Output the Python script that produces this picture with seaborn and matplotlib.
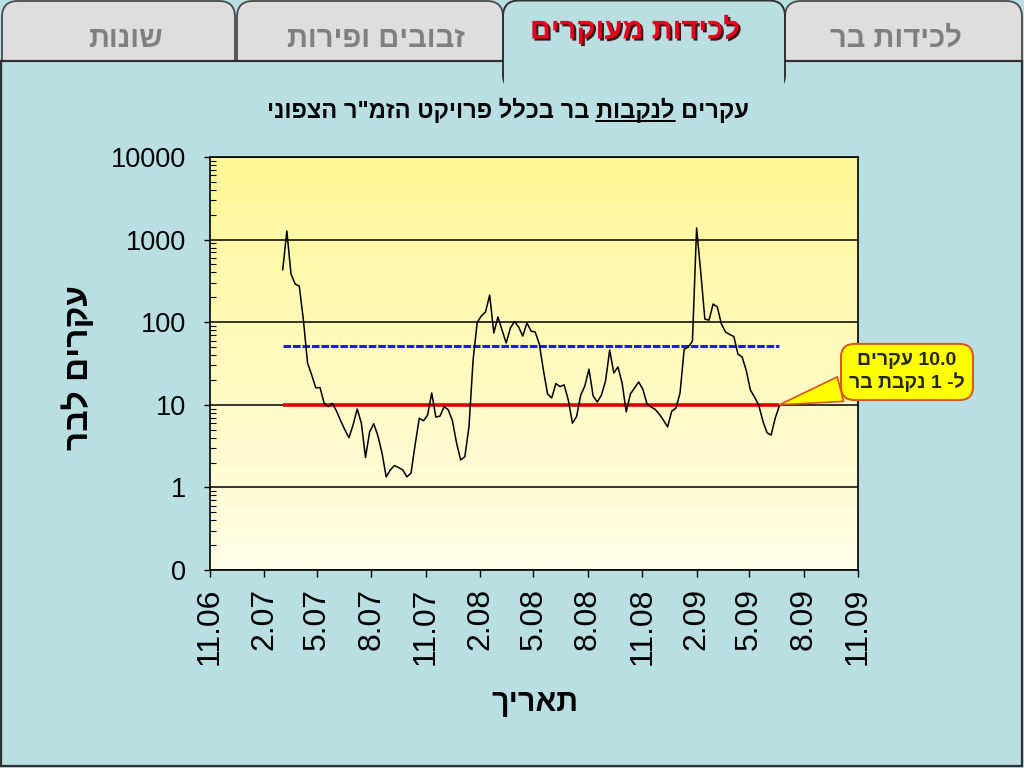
import re
import matplotlib
matplotlib.use("Agg")
import matplotlib.pyplot as plt
import matplotlib.patheffects as pe
from matplotlib.patches import FancyBboxPatch, Rectangle
from matplotlib.lines import Line2D
import numpy as np
import pandas as pd
import seaborn as sns

# weekly ratio of sterile to wild flies (per trapped wild female)
start_date = "2007-03-04"
sterile_per_wild = [430, 1270, 383, 290, 274, 106, 32, 23, 16, 16.2,
                    10.5, 9.5, 10.4, 8.4, 6.4, 5.0, 4.0, 5.7, 8.9, 6.0,
                    2.3, 4.7, 5.9, 4.2, 2.6, 1.34, 1.63, 1.84, 1.74, 1.63,
                    1.34, 1.49, 3.3, 6.9, 6.4, 7.5, 13.9, 7.1, 7.3, 9.5,
                    8.7, 6.4, 3.45, 2.15, 2.35, 5.4, 35, 100, 119, 133,
                    213, 74, 116, 80, 56, 85, 102, 87.5, 68, 98,
                    78, 76, 54.5, 26, 13.5, 12.1, 18.1, 16.6, 17.4, 11.4,
                    6.0, 7.2, 13.1, 16.9, 27, 12.8, 10.8, 13.1, 19.4, 46,
                    24.3, 28.7, 18.4, 8.2, 13.5, 16, 18.9, 15.5, 10.3, 9.4,
                    8.8, 7.7, 6.5, 5.4, 8.4, 9.1, 13.9, 47, 50, 59,
                    1380, 405, 109, 106, 166, 153, 95, 76, 71, 67,
                    41, 38, 26, 15.1, 12.4, 9.95, 6.4, 4.6, 4.3, 6.9, 9.7]
target_ratio = 10.0
mean_ratio = 51.0

tick_labels = ["11.06", "2.07", "5.07", "8.07", "11.07", "2.08", "5.08",
               "8.08", "11.08", "2.09", "5.09", "8.09", "11.09"]
y_ticks = [0.1, 1, 10, 100, 1000, 10000]
y_tick_labels = ["0", "1", "10", "100", "1000", "10000"]

tabs = ["שונות", "זבובים ופירות", "לכידות מעוקרים", "לכידות בר"]
title_text = 'עקרים לנקבות בר בכלל פרויקט הזמ"ר הצפוני'
underlined_word = "לנקבות"
callout_lines = ["10.0 עקרים", "ל- 1 נקבת בר"]
x_title = "תאריך"
y_title = "עקרים לבר"


def rtl(s):
    # matplotlib has no bidi: reverse for display, keep numbers left-to-right
    return re.sub(r"[0-9][0-9.]*", lambda m: m.group(0)[::-1], s[::-1])


df = pd.DataFrame({"date": pd.date_range(start_date, periods=len(sterile_per_wild), freq="7D"),
                   "ratio": sterile_per_wild})
tick_dates = pd.date_range("2006-11-01", periods=len(tick_labels), freq="3MS")

sns.set_theme(style="ticks")
plt.rcParams["font.family"] = ["Liberation Sans", "DejaVu Sans"]

BG = "#b9dfe3"
fig = plt.figure(figsize=(10.24, 7.68), dpi=100, facecolor=BG)

# slide decoration (tabs, frame) in pixel coords
deco = fig.add_axes([0, 0, 1, 1], zorder=0)
deco.set_xlim(0, 1024)
deco.set_ylim(768, 0)
deco.axis("off")
tab_boxes = [(2, 235), (237, 503), (503, 785), (785, 1022)]
tab_text_x = [125, 376, 635, 896]
active = 2
for i, (x0, x1) in enumerate(tab_boxes):
    if i == active:
        continue
    deco.add_patch(FancyBboxPatch((x0, 1), x1 - x0, 90, boxstyle="round,pad=0,rounding_size=16",
                                  fc="#dedede", ec="#4a4a4a", lw=1.3, zorder=1))
deco.add_patch(Rectangle((1, 61), 1021, 705, fc=BG, ec="#303030", lw=1.6, zorder=2))
x0, x1 = tab_boxes[active]
deco.add_patch(FancyBboxPatch((x0, 0.5), x1 - x0, 90, boxstyle="round,pad=0,rounding_size=16",
                              fc=BG, ec="#303030", lw=1.4, zorder=3))
deco.add_patch(Rectangle((x0 + 1.2, 58), x1 - x0 - 2.4, 40, fc=BG, ec="none", zorder=4))
for i, (tx, name) in enumerate(zip(tab_text_x, tabs)):
    if i == active:
        deco.text(tx, 30, rtl(name), ha="center", va="center", fontsize=21,
                  weight="bold", color="#e8001c", zorder=5,
                  path_effects=[pe.withSimplePatchShadow(offset=(1.5, -1.5), shadow_rgbFace="#300000", alpha=0.9)])
    else:
        deco.text(tx, 39, rtl(name), ha="center", va="center", fontsize=21,
                  weight="bold", color="#7f7f7f", zorder=5)

# chart
ax = fig.add_axes([210 / 1024, 1 - 570 / 768, 648 / 1024, 413 / 768], zorder=2)
grad = np.linspace(0, 1, 256)[:, None]
top = np.array([255, 246, 150]) / 255
bottom = np.array([255, 253, 230]) / 255
img = (top * (1 - grad) + bottom * grad)[:, None, :].repeat(2, axis=1)
ax.imshow(img, extent=[0, 1, 0, 1], transform=ax.transAxes, aspect="auto", zorder=0)

sns.lineplot(data=df, x="date", y="ratio", ax=ax, color="black", lw=1.1, zorder=4)
ax.hlines(mean_ratio, df["date"].iloc[0], df["date"].iloc[-1], colors="#1a1aff", lw=2.2,
          linestyles=(0, (2.5, 0.6)), zorder=3)
ax.hlines(target_ratio, df["date"].iloc[0], df["date"].iloc[-1], colors="#d80000", lw=2.6, zorder=3)

ax.set_yscale("log")
ax.set_ylim(0.1, 10000)
ax.set_xlim(tick_dates[0], tick_dates[-1])
ax.set_yticks(y_ticks, labels=y_tick_labels, fontsize=19.5)
ax.set_xticks(tick_dates, labels=tick_labels, fontsize=23, rotation=90)
ax.yaxis.grid(True, which="major", color="black", lw=1.1)
ax.tick_params(axis="y", which="major", direction="out", length=4, width=1, pad=13, colors="black")
ax.tick_params(axis="y", which="minor", direction="in", length=4, width=0.8, color="black")
ax.tick_params(axis="x", which="major", direction="out", length=5, width=1, pad=8, colors="black")
for s in ax.spines.values():
    s.set_color("black")
    s.set_linewidth(1.2)

ax.set_xlabel(rtl(x_title), fontsize=22, weight="bold", color="black")
ax.xaxis.set_label_coords(0.502, -0.285)
ax.set_ylabel(rtl(y_title), fontsize=24, weight="bold", color="black")
ax.yaxis.set_label_coords(-0.178, 0.49)

ax.annotate("\n".join(rtl(t) for t in callout_lines), xy=(df["date"].iloc[-1], target_ratio),
            xytext=(907, 768 - 372), textcoords="figure pixels", ha="center", va="center",
            fontsize=14, weight="bold", linespacing=1.2, annotation_clip=False, zorder=6,
            bbox=dict(boxstyle="round,pad=0.42,rounding_size=0.7", fc="#ffff00", ec="#d9541e", lw=1.4),
            arrowprops=dict(arrowstyle="wedge,tail_width=1.3,shrink_factor=0.5", fc="#ffff00",
                            ec="#d9541e", lw=1.2, shrinkA=0, shrinkB=0))

TITLE_FS = 17
title = fig.text(508 / 1024, 1 - 110 / 768, rtl(title_text), ha="center", va="center",
                 fontsize=TITLE_FS, weight="bold", color="black", zorder=5)

# underline the second word of the title (second from the right once displayed)
fig.canvas.draw()
r = fig.canvas.get_renderer()
bb = title.get_window_extent(r)
first_two = " ".join(title_text.split(" ")[:2])
tmp = fig.text(0, 0, rtl(first_two), fontsize=TITLE_FS, weight="bold")
w_two = tmp.get_window_extent(r).width
tmp.set_text(rtl(underlined_word))
w_word = tmp.get_window_extent(r).width
tmp.remove()
ux1 = (bb.x1 - w_two + w_word) / 1024
ux0 = (bb.x1 - w_two) / 1024
uy = (bb.y0 + 2) / 768
fig.add_artist(Line2D([ux0, ux1], [uy, uy], color="black", lw=1.4, transform=fig.transFigure))

fig.savefig("out.png", dpi=100, facecolor=BG)
